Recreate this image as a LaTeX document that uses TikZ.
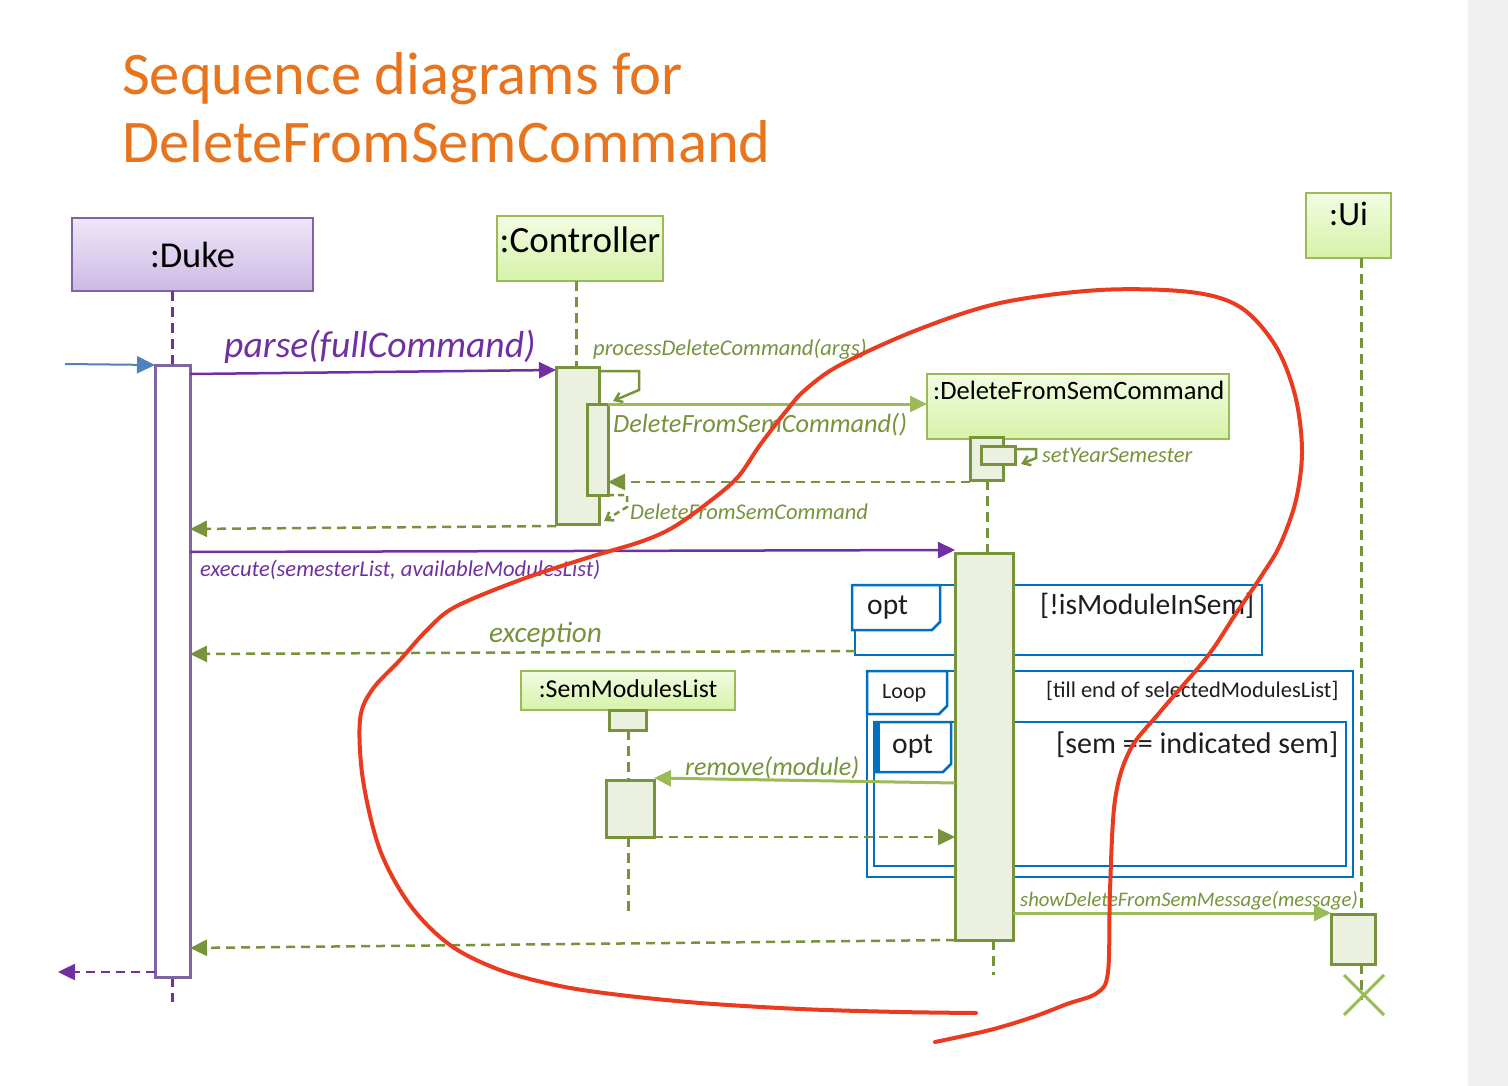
\documentclass[tikz,border=0pt]{standalone}
\usepackage{fontspec}
\setmainfont{Carlito}
\usetikzlibrary{arrows.meta,calc}
\definecolor{titleor}{RGB}{232,116,30}
\definecolor{purpB}{RGB}{128,100,162}
\definecolor{purpA}{RGB}{112,48,160}
\definecolor{gdk}{RGB}{119,147,60}
\definecolor{glt}{RGB}{155,187,89}
\definecolor{gact}{RGB}{235,241,222}
\definecolor{gtop}{RGB}{243,252,226}
\definecolor{gbot}{RGB}{214,242,168}
\definecolor{ptop}{RGB}{238,230,248}
\definecolor{pbot}{RGB}{204,186,230}
\definecolor{frameblue}{RGB}{0,112,192}
\definecolor{inblue}{RGB}{79,129,189}
\definecolor{redpen}{RGB}{234,58,32}
\definecolor{strip}{RGB}{240,240,240}
\definecolor{txt}{RGB}{30,30,30}
\tikzset{
  fsz/.style={font=\fontsize{#1}{#1}\selectfont},
  headP/.style={draw=purpB, line width=2.5pt, top color=ptop, bottom color=pbot, inner sep=0pt, outer sep=0pt},
  headG/.style={draw=glt, line width=2.5pt, top color=gtop, bottom color=gbot, inner sep=0pt, outer sep=0pt},
  actG/.style={draw=gdk, line width=3pt, fill=gact, inner sep=0pt, outer sep=0pt},
  actP/.style={draw=purpB, line width=3pt, fill=white, inner sep=0pt, outer sep=0pt},
  lifeP/.style={draw=purpA, line width=3pt, dash pattern=on 10pt off 6pt},
  lifeG/.style={draw=gdk, line width=3pt, dash pattern=on 10pt off 6pt},
  tri/.style={-{Triangle[length=17pt,width=16pt]}},
  msgP/.style={draw=purpA, line width=2.5pt, tri},
  msgG/.style={draw=glt, line width=3pt, tri},
  retG/.style={draw=gdk, line width=2.5pt, dash pattern=on 9pt off 6pt, tri},
  retP/.style={draw=purpA, line width=2.5pt, dash pattern=on 9pt off 6pt, tri},
  selfG/.style={draw=gdk, line width=2.5pt, -{Straight Barb[length=7pt,width=10pt]}},
  selfGd/.style={draw=gdk, line width=2.5pt, dash pattern=on 6pt off 4pt, -{Straight Barb[length=7pt,width=10pt]}},
  frame/.style={draw=frameblue, line width=2.5pt, inner sep=0pt, outer sep=0pt},
  tab/.style={draw=frameblue, line width=2.5pt, fill=white},
  glab/.style={text=gdk, anchor=base west, inner sep=0pt, font=\itshape\fontsize{#1}{#1}\selectfont},
  plab/.style={text=purpA, anchor=base west, inner sep=0pt, font=\itshape\fontsize{#1}{#1}\selectfont},
  ktxt/.style={text=txt, anchor=base west, inner sep=0pt, font=\fontsize{#1}{#1}\selectfont},
}
\begin{document}
\begin{tikzpicture}[x=1pt,y=-1pt]
\fill[white] (0,0) rectangle (1508,1086);
\fill[strip] (1468,0) rectangle (1508,1086);
\useasboundingbox (0,0) rectangle (1508,1086);

% title
\node[text=titleor, anchor=base west, inner sep=0pt, fsz=60.5] (t1) at (122,95) {Sequence diagrams for};
\node[text=titleor, anchor=base west, inner sep=0pt, fsz=60.5] (t2) at (122,163) {DeleteFromSemCommand};

% combined fragments (behind activations)
\node[frame, minimum width=407pt, minimum height=70pt] (opt1) at (1058.5,620) {};
\draw[tab] (852,585) -- (940,585) -- (940,622) -- (932,630) -- (852,630) -- cycle;
\node[ktxt=29.5] (opt1t) at (867,614) {opt};
\node[ktxt=29.5] (opt1g) at (1040,614) {[!isModuleInSem]};

\node[frame, minimum width=486pt, minimum height=206pt] (loopf) at (1110,774) {};
\draw[tab] (867,671) -- (947,671) -- (947,706) -- (939,714) -- (867,714) -- cycle;
\node[ktxt=22] (loopt) at (882,698) {Loop};
\node[ktxt=22.5] (loopg) at (1046,697) {[till end of selectedModulesList]};

\node[frame, minimum width=472pt, minimum height=144pt] (opt2) at (1110,794) {};
\draw[tab] (876,722) -- (951,722) -- (951,764) -- (943,772) -- (876,772) -- cycle;
\draw[frameblue, line width=4.5pt] (878,722) -- (878,772);
\node[ktxt=29.5] (opt2t) at (892,753) {opt};
\node[ktxt=30] (opt2g) at (1056,753) {[sem == indicated sem]};

% heads
\node[headP, minimum width=241pt, minimum height=73pt, fsz=36.5] (duke) at (192.5,254.5) {:Duke};
\node[headG, minimum width=166pt, minimum height=65pt] (ctrlHead) at (580,248.5) {};
\node[text=black, inner sep=0pt, fsz=37] (ctrlTxt) at (580,240) {:Controller};
\node[headG, minimum width=85pt, minimum height=65pt] (uiHead) at (1348.5,225.5) {};
\node[text=black, inner sep=0pt, fsz=34] (uiTxt) at (1348.5,214) {:Ui};
\node[headG, minimum width=302pt, minimum height=65pt] (dfsHead) at (1078,406.5) {};
\node[text=black, anchor=base west, inner sep=0pt, fsz=26.5] (dfsTxt) at (933,399) {:DeleteFromSemCommand};
\node[headG, minimum width=214pt, minimum height=39pt] (semHead) at (628,690.5) {};
\node[text=black, anchor=base, inner sep=0pt, fsz=25.7] (semTxt) at (628,697) {:SemModulesList};

% lifelines
\coordinate (dukeEnd) at (172.5,1002);
\coordinate (dfsEnd) at (993,975);
\coordinate (semEnd) at (628,915);
\coordinate (uiEnd) at (1361,1000);
\draw[lifeP] (duke.south -| 172.5,0) -- (172.5,365);
\draw[lifeP] (172.5,977) -- (dukeEnd);
\draw[lifeG] (ctrlHead.south -| 576,0) -- (576,367);
\draw[lifeG] (987,480) -- (987,553);
\draw[lifeG] (993,940) -- (dfsEnd);
\draw[lifeG] (628,730) -- (628,780);
\draw[lifeG] (628,837) -- (semEnd);
\draw[lifeG] (uiHead.south -| 1361,0) -- (1361,914);
\draw[lifeG] (1361,964) -- (uiEnd);

% activations
\node[actP, minimum width=35pt, minimum height=612pt] (dukeAct) at (172.5,671) {};
\node[actG, minimum width=43pt, minimum height=157pt] (ctrlAct) at (577.5,445.5) {};
\node[actG, minimum width=21pt, minimum height=91pt] (ctrlAct2) at (597.5,449.5) {};
\node[actG, minimum width=33pt, minimum height=43pt] (dfsAct1) at (986.5,458.5) {};
\node[actG, minimum width=34pt, minimum height=18pt] (dfsAct2) at (998,455) {};
\node[actG, minimum width=58pt, minimum height=387pt] (bigAct) at (984,746.5) {};
\node[actG, minimum width=37pt, minimum height=20pt] (semAct0) at (627.5,720) {};
\node[actG, minimum width=48pt, minimum height=57pt] (semAct) at (630,808.5) {};
\node[actG, minimum width=44pt, minimum height=50pt] (uiAct) at (1353,939) {};

% destruction mark
\draw[glt, line width=3pt] (1344,975) -- (1384,1015) (1384,975) -- (1344,1015);

% messages
\coordinate (inStart) at (65,364);
\coordinate (outEnd) at (58,972);
\coordinate (excStart) at (855,651);
\draw[draw=inblue, line width=2pt, -{Triangle[length=18pt,width=17pt]}] (inStart) -- (dukeAct.north west);
\draw[msgP] (dukeAct.east |- 0,374) -- (ctrlAct.west |- 0,370);
\node[plab=37.6] (parseL) at (224,357) {parse(fullCommand)};

\draw[selfG] (ctrlAct.east |- 0,371) -- (639,371) -- (639,390) -- ($(ctrlAct2.north east)+(5,-3)$);
\node[glab=22.5] (procL) at (593,355) {processDeleteCommand(args)};

\draw[msgG] (ctrlAct2.north east) -- (dfsHead.west |- 0,404);
\node[glab=26.3] (ctorL) at (613,432) {DeleteFromSemCommand()};

\draw[selfG] (dfsAct2.east |- 0,449) -- (1036,449) -- (1036,458) -- ($(dfsAct2.south east)+(6,0)$);
\node[glab=22.5] (setL) at (1042,462) {setYearSemester};

\draw[retG] (dfsAct1.west |- 0,482) -- (ctrlAct2.east |- 0,482);
\draw[selfGd] (ctrlAct2.south east) -- (627,495) -- (627,507) -- ($(ctrlAct.south east)+(5,-3)$);
\node[glab=22.5] (retL) at (630,519) {DeleteFromSemCommand};

\draw[retG] (ctrlAct.west |- 0,526) -- (dukeAct.east |- 0,529);

\draw[msgP] (dukeAct.east |- 0,552) -- (bigAct.west |- 0,550);
\node[plab=22.6] (execL) at (200,576) {execute(semesterList, availableModulesList)};

\draw[retG] (excStart) -- (dukeAct.east |- 0,654);
\node[glab=29.3] (excL) at (489,642) {exception};

\draw[msgG] (bigAct.west |- 0,783) -- (semAct.east |- 0,778);
\node[glab=26] (remL) at (685,775) {remove(module)};

\draw[retG] (semAct.east |- 0,837) -- (bigAct.west |- 0,837);

\draw[msgG] (bigAct.east |- 0,913) -- (uiAct.west |- 0,913);
\node[glab=20.7] (showL) at (1020,906) {showDeleteFromSemMessage(message)};

\draw[retG] (bigAct.west |- 0,940) -- (dukeAct.east |- 0,948);
\draw[retP] (dukeAct.west |- 0,972) -- (outEnd);

% red hand-drawn annotation
\draw[redpen, line width=4pt, line cap=round, line join=round] plot[smooth, tension=0.55] coordinates {
(976,1013) (900,1012) (800,1009) (700,1003) (620,995) (560,986) (500,970) (450,945)
(410,905) (380,850) (363,780) (360,720) (372,690) (400,660) (427,630) (455,607)
(520,580) (590,557) (640,542) (672,528) (705,505) (737,478) (760,445) (787,410)
(805,390) (840,365) (917,330) (1000,303) (1100,290) (1190,292) (1240,307) (1275,345)
(1295,395) (1302,450) (1296,500) (1280,545) (1262,575) (1235,615) (1207,657) (1160,712)
(1130,750) (1115,800) (1110,890) (1108,972) (1097,993) (1067,1004) (1033,1017) (990,1030) (935,1042)};
\end{tikzpicture}
\end{document}
